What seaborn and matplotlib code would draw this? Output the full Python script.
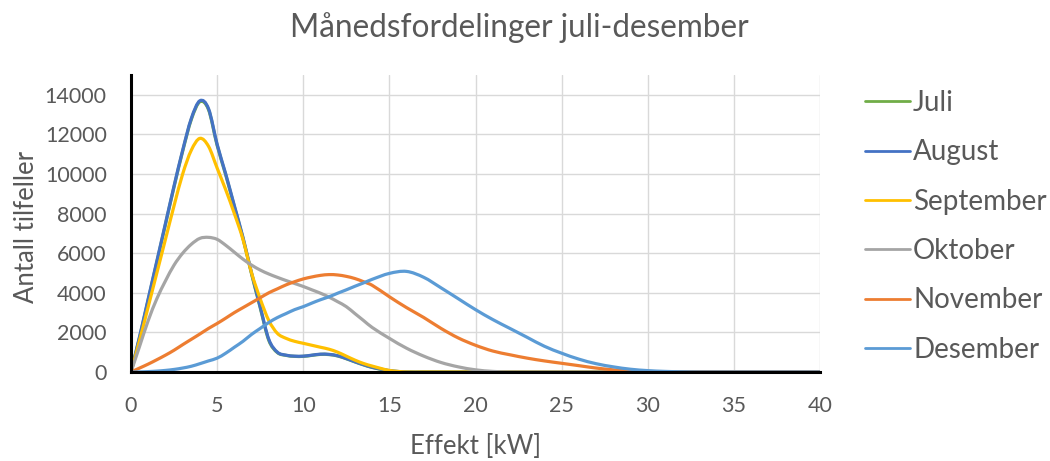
import matplotlib
matplotlib.use("Agg")
import matplotlib.pyplot as plt
from matplotlib.path import Path
from matplotlib.patches import PathPatch
import numpy as np
import seaborn as sns
import pandas as pd

# Power levels [kW]: half-kW steps up to 14 kW, whole kW above
effekt = [0, 0.5, 1, 1.5, 2, 2.5, 3, 3.5, 4, 4.5, 5, 5.5, 6, 6.5, 7, 7.5, 8, 8.5,
          9, 9.5, 10, 10.5, 11, 11.5, 12, 12.5, 13, 13.5, 14,
          15, 16, 17, 18, 19, 20, 21, 22, 23, 24, 25, 26, 27, 28, 29, 30,
          31, 32, 33, 34, 35, 36, 37, 38, 39, 40]

juli = [0, 1750, 3650, 5550, 7450, 9350, 11150, 12750, 13650, 13250, 11450, 9950,
        8350, 6750, 4950, 3250, 1600, 980, 840, 790, 790, 840, 890, 880, 810, 670,
        510, 360, 230,
        60, 0, 0, 0, 0, 0, 0, 0, 0, 0, 0, 0, 0, 0, 0, 0, 0, 0, 0, 0, 0, 0, 0, 0, 0, 0]

august = [0, 1800, 3700, 5600, 7500, 9400, 11200, 12800, 13700, 13300, 11500, 10000,
          8400, 6800, 5000, 3300, 1650, 1000, 850, 800, 800, 850, 900, 890, 820, 680,
          520, 370, 240,
          70, 0, 0, 0, 0, 0, 0, 0, 0, 0, 0, 0, 0, 0, 0, 0, 0, 0, 0, 0, 0, 0, 0, 0, 0, 0]

september = [0, 1600, 3300, 5000, 6700, 8400, 10000, 11200, 11800, 11400, 10300, 9200,
             8000, 6700, 5000, 3700, 2600, 1950, 1700, 1550, 1450, 1350, 1250, 1150,
             1000, 800, 600, 430, 300,
             80, 0, 0, 0, 0, 0, 0, 0, 0, 0, 0, 0, 0, 0, 0, 0, 0, 0, 0, 0, 0, 0, 0, 0, 0, 0]

oktober = [0, 1300, 2600, 3700, 4600, 5400, 6000, 6450, 6750, 6800, 6700, 6400,
           6050, 5700, 5400, 5150, 4950, 4780, 4620, 4470, 4320, 4150, 3980, 3780,
           3550, 3300, 2950, 2600, 2250,
           1700, 1200, 800, 480, 260, 110, 30, 0, 0, 0, 0, 0, 0, 0, 0, 0, 0, 0, 0,
           0, 0, 0, 0, 0, 0, 0]

november = [0, 200, 400, 620, 850, 1100, 1380, 1650, 1920, 2200, 2450, 2720, 3000,
            3250, 3500, 3750, 4000, 4200, 4400, 4560, 4700, 4800, 4880, 4920, 4900,
            4830, 4720, 4560, 4380,
            3800, 3250, 2750, 2200, 1720, 1350, 1060, 870, 700, 560, 440, 320, 200,
            110, 50, 15, 0, 0, 0, 0, 0, 0, 0, 0, 0, 0]

desember = [0, 5, 20, 45, 80, 130, 200, 290, 420, 560, 700, 950, 1250, 1550, 1900,
            2200, 2500, 2750, 2950, 3150, 3300, 3480, 3650, 3800, 3980, 4150, 4330,
            4500, 4680,
            4980, 5080, 4780, 4250, 3700, 3150, 2650, 2200, 1750, 1300, 950, 650, 420,
            260, 140, 70, 30, 10, 0, 0, 0, 0, 0, 0, 0, 0]

months = ["Juli", "August", "September", "Oktober", "November", "Desember"]
series = [juli, august, september, oktober, november, desember]
colors = {"Juli": "#70AD47", "August": "#4472C4", "September": "#FFC000",
          "Oktober": "#A5A5A5", "November": "#ED7D31", "Desember": "#5B9BD5"}

df = pd.concat(
    [pd.DataFrame({"Effekt": effekt, "Antall": vals, "Måned": m})
     for m, vals in zip(months, series)],
    ignore_index=True,
)


def smoothed_path(xs, ys):
    """Cubic Bezier path through the points (smoothed line style)."""
    xs = np.asarray(xs, float)
    ys = np.asarray(ys, float)
    slope = np.empty_like(ys)
    slope[0] = (ys[1] - ys[0]) / (xs[1] - xs[0])
    slope[-1] = (ys[-1] - ys[-2]) / (xs[-1] - xs[-2])
    slope[1:-1] = (ys[2:] - ys[:-2]) / (xs[2:] - xs[:-2])
    verts = [(xs[0], ys[0])]
    codes = [Path.MOVETO]
    for i in range(len(xs) - 1):
        h = xs[i + 1] - xs[i]
        verts += [(xs[i] + h / 3, ys[i] + slope[i] * h / 3),
                  (xs[i + 1] - h / 3, ys[i + 1] - slope[i + 1] * h / 3),
                  (xs[i + 1], ys[i + 1])]
        codes += [Path.CURVE4] * 3
    return Path(verts, codes)


sns.set_theme(style="white")
plt.rcParams["font.family"] = ["Lato", "DejaVu Sans"]

text_grey = "#595959"
line_w = 2.3
fig = plt.figure(figsize=(10.5, 4.61), dpi=100)
ax = fig.add_axes([131 / 1050, 1 - 372 / 461, (820 - 131) / 1050, (372 - 75) / 461])

sns.lineplot(data=df, x="Effekt", y="Antall", hue="Måned", hue_order=months,
             palette=colors, linewidth=line_w, ax=ax, sort=False,
             estimator=None)
handles, labels = ax.get_legend_handles_labels()

# Render each month's line as a smooth curve through its points
data_lines = [ln for ln in ax.lines if len(ln.get_xdata()) > 0]
for ln in data_lines:
    patch = PathPatch(smoothed_path(ln.get_xdata(), ln.get_ydata()),
                      facecolor="none", edgecolor=ln.get_color(),
                      linewidth=line_w, capstyle="round", joinstyle="round",
                      zorder=ln.get_zorder())
    ax.add_patch(patch)
    ln.set_visible(False)

ax.set_xlim(0, 40)
ax.set_ylim(0, 15000)
ax.set_xticks(range(0, 41, 5))
ax.set_yticks(range(0, 14001, 2000))
ax.grid(True, color="#D9D9D9", linewidth=1)
ax.set_axisbelow(True)

for side in ("top", "right"):
    ax.spines[side].set_visible(False)
for side in ("left", "bottom"):
    ax.spines[side].set_color("black")
    ax.spines[side].set_linewidth(2.2)

ax.tick_params(axis="both", direction="out", length=4.5, width=2, color="black",
               labelcolor=text_grey, labelsize=15.5)
ax.tick_params(axis="y", pad=13)
ax.tick_params(axis="x", pad=12.5)

ax.set_xlabel("Effekt [kW]", fontsize=18.5, color=text_grey)
ax.set_ylabel("Antall tilfeller", fontsize=18.5, color=text_grey)
ax.xaxis.set_label_coords(0.5, -0.21)
ax.yaxis.set_label_coords(-0.133, 0.49)

fig.text(519 / 1050, 1 - 28 / 461, "Månedsfordelinger juli-desember", ha="center",
         va="center", fontsize=22.7, color=text_grey)

leg = ax.legend(handles, labels, loc="upper left",
                bbox_to_anchor=(865 / 1050, 1 - 90 / 461),
                bbox_transform=fig.transFigure, frameon=False,
                fontsize=20, handlelength=1.62, handletextpad=0.11,
                labelspacing=0.84, borderaxespad=0, borderpad=0)
for t in leg.get_texts():
    t.set_color(text_grey)
for h in leg.get_lines():
    h.set_linewidth(2)

fig.savefig("out.png", dpi=100)
